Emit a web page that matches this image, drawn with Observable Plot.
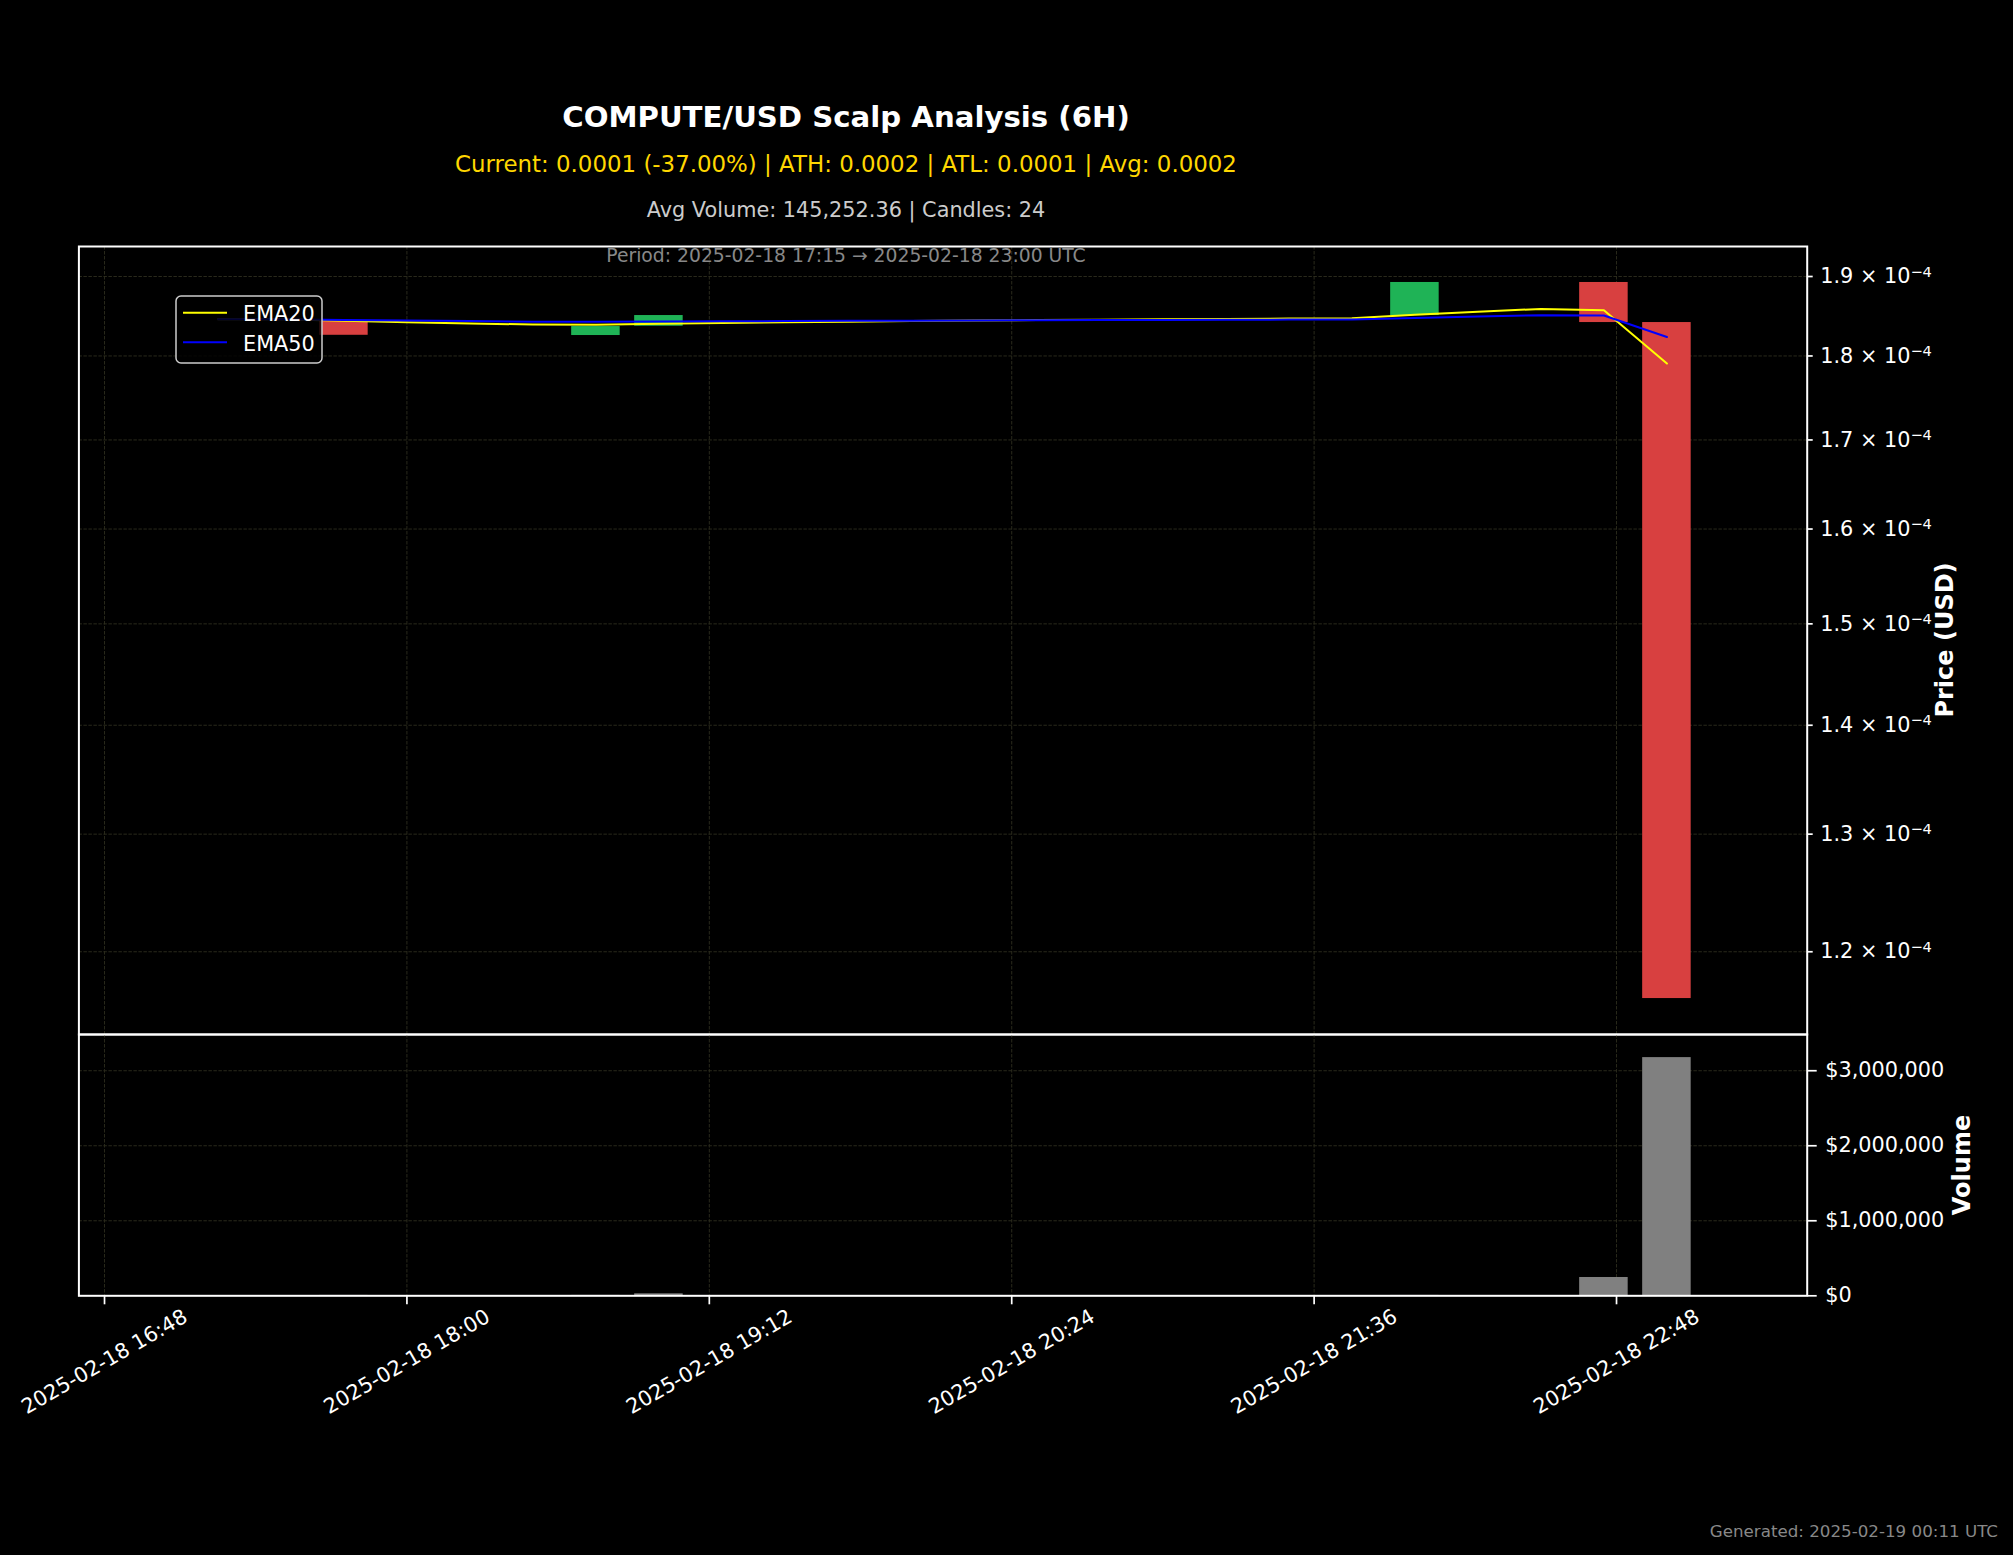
<!DOCTYPE html>
<html><head><meta charset="utf-8">
<script src="https://cdn.jsdelivr.net/npm/d3@7"></script>
<script src="https://cdn.jsdelivr.net/npm/@observablehq/plot@0.6"></script>
<style>
html,body{margin:0;padding:0;background:#000;}
#root{position:relative;width:2013px;height:1555px;background:#000;overflow:hidden;font-family:"DejaVu Sans",sans-serif;}
#root svg{position:absolute;left:0;overflow:visible;}
</style></head><body><div id="root"></div>
<script>
// ---- data ----
const times = [
  "2025-02-18T17:15Z","2025-02-18T17:30Z","2025-02-18T17:45Z","2025-02-18T18:00Z",
  "2025-02-18T18:15Z","2025-02-18T18:30Z","2025-02-18T18:45Z","2025-02-18T19:00Z",
  "2025-02-18T19:15Z","2025-02-18T19:30Z","2025-02-18T19:45Z","2025-02-18T20:00Z",
  "2025-02-18T20:15Z","2025-02-18T20:30Z","2025-02-18T20:45Z","2025-02-18T21:00Z",
  "2025-02-18T21:15Z","2025-02-18T21:30Z","2025-02-18T21:45Z","2025-02-18T22:00Z",
  "2025-02-18T22:15Z","2025-02-18T22:30Z","2025-02-18T22:45Z","2025-02-18T23:00Z"
];
const opens = [
  1.8455e-4,1.8455e-4,1.8430e-4,1.8255e-4,1.8255e-4,1.8255e-4,1.8252e-4,1.8368e-4,
  1.8502e-4,1.8502e-4,1.8502e-4,1.8502e-4,1.8502e-4,1.8502e-4,1.8502e-4,1.8502e-4,
  1.8502e-4,1.8502e-4,1.8502e-4,1.8502e-4,1.8923e-4,1.8923e-4,1.8923e-4,1.8414e-4
];
const closes = [
  1.8455e-4,1.8455e-4,1.8255e-4,1.8255e-4,1.8255e-4,1.8255e-4,1.8364e-4,1.8502e-4,
  1.8502e-4,1.8502e-4,1.8502e-4,1.8502e-4,1.8502e-4,1.8502e-4,1.8502e-4,1.8502e-4,
  1.8502e-4,1.8502e-4,1.8502e-4,1.8923e-4,1.8923e-4,1.8923e-4,1.8414e-4,1.1624e-4
];
const volumes = [
  2000,1500,5000,500,800,1000,5000,26000,
  1200,800,600,900,1500,700,400,1100,
  2000,900,1300,5000,1000,1800,244000,3175000
];
const ema20 = [
  1.8455e-4,1.8455e-4,1.8436e-4,1.8419e-4,1.8403e-4,1.8389e-4,1.8387e-4,1.8398e-4,
  1.8408e-4,1.8417e-4,1.8425e-4,1.8432e-4,1.8439e-4,1.8445e-4,1.8450e-4,1.8455e-4,
  1.8460e-4,1.8464e-4,1.8467e-4,1.8511e-4,1.8550e-4,1.8586e-4,1.8569e-4,1.7908e-4
];
const ema50 = [
  1.8455e-4,1.8455e-4,1.8447e-4,1.8440e-4,1.8432e-4,1.8425e-4,1.8423e-4,1.8426e-4,
  1.8429e-4,1.8432e-4,1.8435e-4,1.8437e-4,1.8440e-4,1.8442e-4,1.8445e-4,1.8447e-4,
  1.8449e-4,1.8451e-4,1.8453e-4,1.8472e-4,1.8489e-4,1.8506e-4,1.8503e-4,1.8233e-4
];
const priceTicks = [1.2e-4,1.3e-4,1.4e-4,1.5e-4,1.6e-4,1.7e-4,1.8e-4,1.9e-4];
const priceTickMantissas = ["1.2","1.3","1.4","1.5","1.6","1.7","1.8","1.9"];
const priceTickExponent = "\u22124";
const volumeTicks = [0,1000000,2000000,3000000];
const volumeTickLabels = ["$0","$1,000,000","$2,000,000","$3,000,000"];
const xTickLabels = ["2025-02-18 16:48","2025-02-18 18:00","2025-02-18 19:12","2025-02-18 20:24","2025-02-18 21:36","2025-02-18 22:48"];
const titleText = "COMPUTE/USD Scalp Analysis (6H)";
const statsText = "Current: 0.0001 (-37.00%) | ATH: 0.0002 | ATL: 0.0001 | Avg: 0.0002";
const volText = "Avg Volume: 145,252.36 | Candles: 24";
const periodText = "Period: 2025-02-18 17:15 \u2192 2025-02-18 23:00 UTC";
const generatedText = "Generated: 2025-02-19 00:11 UTC";
const seriesNames = ["EMA20","EMA50"];

// ---- styling / layout ----
const W = 2013;
const GREEN = "#1fb356", RED = "#d84040", VOLC = "#808080";
const GRID = "#2e2e1e";
const FONT = "DejaVu Sans";
const candleMinutes = 11.55;
const xDomain = [new Date("2025-02-18T16:41:54Z"), new Date("2025-02-18T23:33:24Z")];
const xTicks = xTickLabels.map(s => new Date(s.replace(" ", "T") + ":00Z"));
const halfMs = candleMinutes * 60000 / 2;

const candles = times.map((t, i) => ({
  t: new Date(t), open: opens[i], close: closes[i], vol: volumes[i], e20: ema20[i], e50: ema50[i]
}));

const root = document.getElementById("root");
const mL = 78.4, mR = W - 1806.7;

const gridOpts = {stroke: GRID, strokeOpacity: 1, strokeWidth: 0.9, strokeDasharray: "3.5,1.5"};

const price = Plot.plot({
  width: W, height: 1034,
  marginLeft: mL, marginRight: mR, marginTop: 246, marginBottom: 0,
  style: {background: "none", color: "white", fontFamily: FONT, fontSize: "20.8px", overflow: "visible"},
  x: {type: "utc", domain: xDomain, axis: null},
  y: {type: "log", domain: [1.1343e-4, 1.9392e-4]},
  marks: [
    Plot.gridX(xTicks, gridOpts),
    Plot.gridY(priceTicks, gridOpts),
    Plot.rect(candles, {
      x1: d => new Date(+d.t - halfMs), x2: d => new Date(+d.t + halfMs),
      y1: "open", y2: "close",
      fill: d => d.close >= d.open ? GREEN : RED
    }),
    Plot.line(candles, {x: "t", y: "e20", stroke: "#ffff00", strokeWidth: 2}),
    Plot.line(candles, {x: "t", y: "e50", stroke: "#0000ff", strokeWidth: 2}),
    Plot.axisY(priceTicks, {
      anchor: "right", tickSize: 5, tickPadding: 8, strokeWidth: 1.7, fontSize: 20.8,
      tickFormat: d => priceTickMantissas[priceTicks.indexOf(d)] + " \u00d7 10", label: null
    }),
    Plot.frame({stroke: "white", strokeWidth: 2})
  ]
});
price.style.top = "0px";
root.appendChild(price);
// mathtext-like superscript exponent on the price tick labels
d3.select(price).selectAll('g[aria-label="y-axis tick label"] text').each(function() {
  d3.select(this).append("tspan").attr("dy", "-0.45em").attr("font-size", 14.6).text(priceTickExponent);
});

const volTop = 1034, volInner = 1295.3 - 1034;
const volume = Plot.plot({
  width: W, height: 1555 - volTop,
  marginLeft: mL, marginRight: mR, marginTop: 0, marginBottom: (1555 - volTop) - volInner,
  style: {background: "none", color: "white", fontFamily: FONT, fontSize: "20.8px", overflow: "visible"},
  x: {type: "utc", domain: xDomain},
  y: {domain: [0, 3483000]},
  marks: [
    Plot.gridX(xTicks, gridOpts),
    Plot.gridY(volumeTicks, gridOpts),
    Plot.rect(candles, {
      x1: d => new Date(+d.t - halfMs), x2: d => new Date(+d.t + halfMs),
      y1: 0, y2: "vol", fill: VOLC
    }),
    Plot.axisY(volumeTicks, {
      anchor: "right", tickSize: 9, tickPadding: 9, strokeWidth: 1.7, fontSize: 20.8,
      tickFormat: d => volumeTickLabels[volumeTicks.indexOf(d)], label: null
    }),
    Plot.axisX(xTicks, {anchor: "bottom", tickSize: 9, strokeWidth: 1.7, tickFormat: () => "", label: null}),
    Plot.text(xTicks, {
      x: d => d, text: (d, i) => xTickLabels[i], frameAnchor: "bottom", dy: 66,
      rotate: -30, textAnchor: "middle", lineAnchor: "middle", fontSize: 20.8, fill: "white"
    }),
    Plot.frame({stroke: "white", strokeWidth: 2})
  ]
});
volume.style.top = volTop + "px";
root.appendChild(volume);

// ---- overlay: titles, axis labels, legend, caption ----
const ov = d3.select(root).append("svg")
  .attr("width", W).attr("height", 1555).style("top", "0px")
  .style("font-family", FONT);

function txt(x, y, s, size, fill, weight, anchor) {
  return ov.append("text").attr("x", x).attr("y", y).attr("font-size", size)
    .attr("fill", fill).attr("font-weight", weight || "normal")
    .attr("text-anchor", anchor || "middle").text(s);
}
txt(846, 127, titleText, 29.2, "white", "bold");
txt(846, 172, statsText, 22.9, "#ffd700");
txt(846, 217.3, volText, 20.8, "#cccccc");
txt(846, 261.7, periodText, 18.75, "#888888");
txt(1998, 1536.7, generatedText, 16.7, "#888888", "normal", "end");

ov.append("text").attr("transform", "translate(1945,640) rotate(-90)")
  .attr("text-anchor", "middle").attr("dominant-baseline", "central")
  .attr("font-size", 24).attr("font-weight", "bold").attr("fill", "white").text("Price (USD)");
ov.append("text").attr("transform", "translate(1962,1165) rotate(-90)")
  .attr("text-anchor", "middle").attr("dominant-baseline", "central")
  .attr("font-size", 24).attr("font-weight", "bold").attr("fill", "white").text("Volume");

// legend
ov.append("rect").attr("x", 176).attr("y", 296).attr("width", 146).attr("height", 67)
  .attr("rx", 5).attr("fill", "black").attr("fill-opacity", 0.8)
  .attr("stroke", "#cccccc").attr("stroke-width", 1.5);
const legColors = ["#ffff00", "#0000ff"];
seriesNames.forEach((n, i) => {
  const y = 312.7 + i * 29.6;
  ov.append("line").attr("x1", 183).attr("x2", 227).attr("y1", y).attr("y2", y)
    .attr("stroke", legColors[i]).attr("stroke-width", 2);
  txt(243, 321 + i * 30, n, 20.8, "white", "normal", "start");
});
</script>
</body></html>
